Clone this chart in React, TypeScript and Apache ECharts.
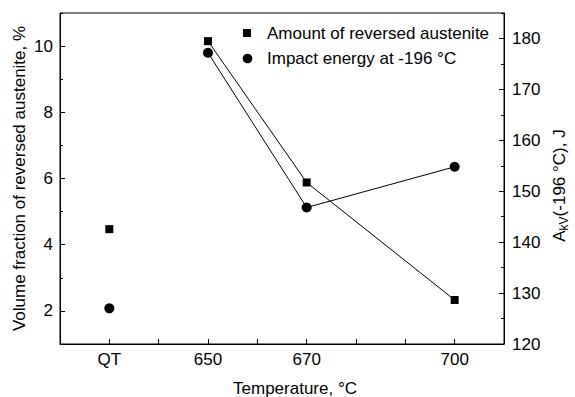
import React, { useEffect, useRef } from "react";
import * as echarts from "echarts";

// x positions: 630 stands for the "QT" condition on the temperature axis
const temps = [630, 640, 650, 670, 700];
const austenite: (number | string)[] = [4.47, "-", 10.15, 5.88, 2.33];
const impact: (number | string)[] = [127, "-", 177.2, 146.8, 154.8];
const xLabels: Record<number, string> = { 630: "QT", 650: "650", 670: "670", 700: "700" };
const leftMajor = [2, 4, 6, 8, 10];
const leftMinor = [3, 5, 7, 9, 11];
const rightMajor = [120, 130, 140, 150, 160, 170, 180];
const rightMinor = [125, 135, 145, 155, 165, 175, 185];
const legendNames = ["Amount of reversed austenite", "Impact energy at -196 °C"];

const FONT = "Liberation Sans, Arial, sans-serif";
const FS = 17;

export default function App() {
  const ref = useRef<HTMLDivElement>(null);
  useEffect(() => {
    if (!ref.current) return;
    const chart = echarts.init(ref.current, null, { renderer: "svg" });
    const black = "#000";
    const baseText = { color: black, fontFamily: FONT, fontSize: FS };
    const yCommon = {
      type: "value",
      splitLine: { show: false },
      axisLine: { show: true, lineStyle: { color: black, width: 1 } },
    };
    chart.setOption({
      animation: false,
      backgroundColor: "#fff",
      textStyle: { fontFamily: FONT },
      grid: {
        left: 60,
        right: 71,
        top: 13,
        bottom: 53,
        containLabel: false,
        outerBoundsMode: "none",
        show: true,
        borderColor: black,
        borderWidth: 1,
        backgroundColor: "transparent",
      },
      xAxis: {
        type: "value",
        min: 620,
        max: 710,
        interval: 10,
        name: "Temperature, °C",
        nameLocation: "middle",
        nameGap: 36,
        nameMoveOverlap: false,
        nameTextStyle: { ...baseText, padding: [0, 0, 0, 26] },
        splitLine: { show: false },
        axisLine: { show: true, lineStyle: { color: black, width: 1 } },
        axisTick: { show: true, inside: true, length: 5, lineStyle: { color: black } },
        axisLabel: {
          ...baseText,
          margin: 7,
          formatter: (v: number) => xLabels[v] ?? "",
        },
      },
      yAxis: [
        {
          ...yCommon,
          position: "left",
          min: 1,
          max: 11,
          interval: 1,
          name: "Volume fraction of reversed austenite, %",
          nameLocation: "middle",
          nameGap: 32,
          nameMoveOverlap: false,
          nameTextStyle: baseText,
          axisTick: { show: true, inside: true, length: 5, customValues: leftMajor, lineStyle: { color: black } },
          axisLabel: { ...baseText, margin: 7, customValues: leftMajor },
        },
        {
          ...yCommon,
          position: "right",
          min: 120,
          max: 185,
          interval: 10,
          name: "{a|A}{sub|kV}{a|(-196 °C), J}",
          nameLocation: "middle",
          nameGap: 44,
          nameMoveOverlap: false,
          nameTextStyle: {
            ...baseText,
            padding: [0, 14, 0, 0],
            rich: {
              a: { fontSize: FS, fontFamily: FONT, color: black, lineHeight: 22 },
              sub: { fontSize: 12, fontFamily: FONT, color: black, lineHeight: 11, verticalAlign: "bottom" },
            },
          },
          axisTick: { show: true, inside: true, length: 5, customValues: rightMajor, lineStyle: { color: black } },
          axisLabel: { ...baseText, margin: 8, customValues: rightMajor },
        },
        {
          ...yCommon,
          position: "left",
          offset: 0,
          min: 1,
          max: 11,
          interval: 1,
          axisLine: { show: false },
          axisTick: { show: true, inside: true, length: 3, customValues: leftMinor, lineStyle: { color: black } },
          axisLabel: { show: false },
        },
        {
          ...yCommon,
          position: "right",
          offset: 0,
          min: 120,
          max: 185,
          interval: 10,
          axisLine: { show: false },
          axisTick: { show: true, inside: true, length: 3, customValues: rightMinor, lineStyle: { color: black } },
          axisLabel: { show: false },
        },
      ],
      series: [
        {
          name: legendNames[0],
          type: "line",
          yAxisIndex: 0,
          data: temps.map((t, i) => [t, austenite[i]]),
          symbol: "rect",
          symbolSize: 8,
          connectNulls: false,
          itemStyle: { color: black },
          lineStyle: { color: black, width: 1 },
        },
        {
          name: legendNames[1],
          type: "line",
          yAxisIndex: 1,
          data: temps.map((t, i) => [t, impact[i]]),
          symbol: "circle",
          symbolSize: 10,
          connectNulls: false,
          itemStyle: { color: black },
          lineStyle: { color: black, width: 1 },
        },
      ],
      graphic: [
        { type: "rect", left: 243, top: 29, shape: { width: 8, height: 8 }, style: { fill: black } },
        { type: "circle", shape: { cx: 247.5, cy: 58.5, r: 4.8 }, style: { fill: black } },
        {
          type: "text",
          x: 267,
          y: 33,
          style: { text: legendNames[0], font: `${FS}px ${FONT}`, fill: black, verticalAlign: "middle" },
        },
        {
          type: "text",
          x: 267,
          y: 58,
          style: { text: legendNames[1], font: `${FS}px ${FONT}`, fill: black, verticalAlign: "middle" },
        },
      ],
    });
    return () => chart.dispose();
  }, []);
  return (
    <div
      ref={ref}
      style={{ position: "fixed", left: 0, top: 0, width: 575, height: 397, background: "#fff" }}
    />
  );
}
